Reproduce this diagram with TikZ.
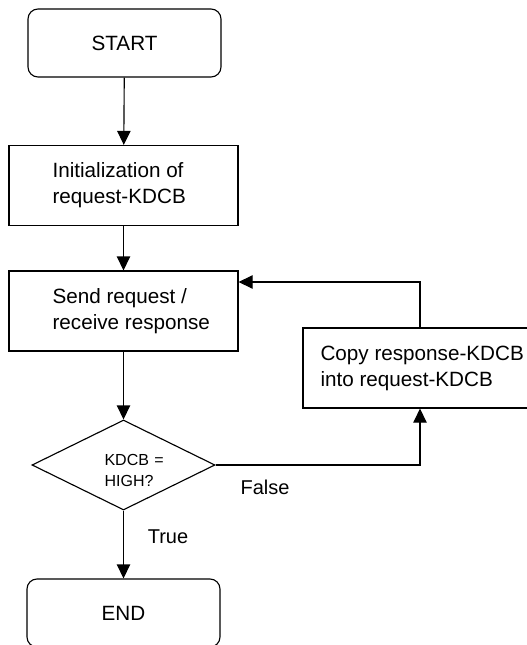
\documentclass[tikz,border=0pt]{standalone}
\usepackage{fontspec}
\setmainfont{Liberation Sans}
\usetikzlibrary{arrows.meta,shapes.geometric}
\begin{document}
\begin{tikzpicture}[x=0.75pt,y=-0.75pt,
  line width=0.85pt,
  txt/.style={font=\fontsize{15.5pt}{19.5pt}\selectfont, align=left, inner sep=0pt, anchor=west},
  smalltxt/.style={font=\fontsize{12pt}{15.75pt}\selectfont, align=left, inner sep=0pt, anchor=west},
  lbl/.style={font=\fontsize{15pt}{18pt}\selectfont, inner sep=0pt},
  procbox/.style={draw, rectangle, minimum width=171.75pt, minimum height=60pt, inner sep=0pt},
  termbox/.style={draw, rectangle, rounded corners=7.5pt, minimum width=144.75pt, minimum height=51pt, inner sep=0pt, font=\fontsize{15.5pt}{19.5pt}\selectfont},
  decbox/.style={draw, diamond, aspect=2.03, minimum width=137.25pt, minimum height=67.5pt, inner sep=0pt},
  arr/.style={-{Triangle[length=10.5pt,width=10pt]}}
]
\clip (0,0) rectangle (527,645);
% nodes
\node[termbox] (start) at (124.5,43) {START};
\node[procbox] (init) at (123.5,185.5) {};
\node[txt] (inittxt) at (52,185.5) {Initialization of\\request-KDCB};
\node[procbox] (send) at (123.5,311) {};
\node[txt] (sendtxt) at (52,311) {Send request /\\receive response};
\node[decbox] (dec) at (123.5,465) {};
\node[smalltxt] (dectxt) at (104,470) {KDCB\,\,=\\HIGH?};
\node[termbox] (end) at (123.5,613) {END};
\node[procbox, minimum width=175.5pt] (copy) at (420,368) {};
\node[txt] (copytxt) at (320,368) {Copy response-KDCB\\into request-KDCB};
% labels
\node[lbl] (false) at (265,487) {False};
\node[lbl] (true) at (168,537) {True};
% connectors
\draw[arr] (start) -- (init);
\draw[arr] (init) -- (send);
\draw[arr] (send) -- (dec);
\draw[arr] (dec) -- (end);
\draw[arr] (dec.east) -| (copy.south);
\draw[arr] (copy.north) |- ([yshift=21.75pt]send.east);
\end{tikzpicture}
\end{document}
